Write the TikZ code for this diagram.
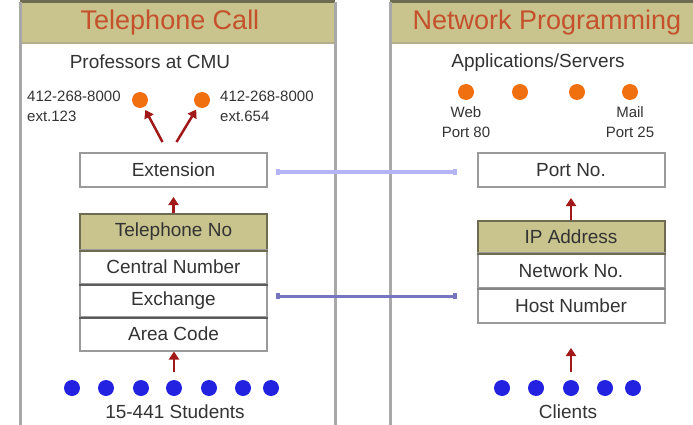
\documentclass[tikz,border=0pt]{standalone}
\usepackage{fontspec}
\setmainfont{Liberation Sans}
\usetikzlibrary{arrows.meta}

\definecolor{khaki}{HTML}{C9C48E}
\definecolor{olivedark}{HTML}{6E6B50}
\definecolor{panelgray}{HTML}{A8A8A8}
\definecolor{boxgray}{HTML}{9A9A9A}
\definecolor{txtgray}{HTML}{333333}
\definecolor{titlered}{HTML}{C4502C}
\definecolor{arrowred}{HTML}{A01818}
\definecolor{dotorange}{HTML}{F07010}
\definecolor{dotblue}{HTML}{2222E0}
\definecolor{linklight}{HTML}{B4B4F4}
\definecolor{linkdark}{HTML}{7676C0}

\begin{document}
\begin{tikzpicture}[x=1pt, y=-1pt,
    box/.style ={draw=boxgray, line width=2pt, minimum width=187pt, minimum height=34pt,
                 inner sep=0pt, font=\fontsize{19}{21}\selectfont, text=txtgray},
    head/.style ={box, fill=khaki, draw=olivedark},
    row/.style ={box, minimum height=33.5pt},
    title/.style ={font=\fontsize{27}{30}\selectfont, text=titlered},
    caption/.style ={font=\fontsize{19}{21}\selectfont, text=txtgray},
    small/.style ={font=\fontsize{15}{20}\selectfont, text=txtgray, align=left, inner sep=0pt},
    orange dot/.style ={circle, fill=dotorange, inner sep=0pt, minimum size=16pt},
    blue dot/.style ={circle, fill=dotblue, inner sep=0pt, minimum size=16pt},
    up/.style ={draw=arrowred, line width=2.5pt, -{Triangle[length=8pt,width=10pt]}},
    link/.style ={line width=3.5pt, {Square[length=4pt,width=6pt]}-{Square[length=4pt,width=6pt]}}]

   \useasboundingbox (0,0) rectangle (693,425);

   % the two panels
   \fill[khaki] (20,3) rectangle (335,43);
   \fill[khaki] (390,3) rectangle (693,43);
   \draw[khaki!70!gray, line width=1.5pt] (20,43) -- (335,43);
   \draw[khaki!70!gray, line width=1.5pt] (390,43) -- (693,43);
   \draw[olivedark, line width=3pt] (20,2) -- (335,2);
   \draw[olivedark, line width=3pt] (390,2) -- (693,2);
   \draw[panelgray, line width=3pt] (20,2) -- (20,425);
   \draw[panelgray, line width=3pt] (335,2) -- (335,425);
   \draw[panelgray, line width=3pt] (390,2) -- (390,425);

   \node[title] (call) at (170,23) {Telephone Call};
   \node[title] (net)  at (547,23) {Network Programming};

   % telephone call
   \node[caption] (prof) at (150,62) {Professors at CMU};
   \node[orange dot] (p1) at (140,100) {};
   \node[orange dot] (p2) at (202,100) {};
   \node[small, anchor=west] (p1lab) at (27,106) {412-268-8000\\ext.123};
   \node[small, anchor=west] (p2lab) at (220,106) {412-268-8000\\ext.654};

   \node[box] (ext) at (173.5,170) {Extension};
   \node[head, minimum height=36pt] (tel) at (173.5,232) {Telephone No};
   \node[row] (central) at (173.5,266.75) {Central Number};
   \node[row] (exch) at (173.5,300.25) {Exchange};
   \node[row] (area) at (173.5,333.75) {Area Code};
   \draw[olivedark, line width=2pt] (tel.south west) -- (tel.south east);
   \draw[txtgray!80, line width=2pt] (central.south west) -- (central.south east);
   \draw[txtgray!80, line width=1.5pt] (exch.south west) -- (exch.south east);

   \node[blue dot] (st1) at (72,388) {};
   \node[blue dot] (st2) at (106,388) {};
   \node[blue dot] (st3) at (141,388) {};
   \node[blue dot] (st4) at (174,388) {};
   \node[blue dot] (st5) at (209,388) {};
   \node[blue dot] (st6) at (243,388) {};
   \node[blue dot] (st7) at (271,388) {};
   \node[caption] (students) at (175,412) {15-441 Students};

   \draw[up, shorten >=3pt] ([xshift=-11pt,yshift=10pt]ext.north) to (p1);
   \draw[up, shorten >=3pt] ([xshift=3pt,yshift=10pt]ext.north) to (p2);
   \draw[up, shorten >=9pt] (tel.north) to (ext.south);
   \draw[up, shorten <=8pt] (st4.north) to (st4.north |- area.south);

   % network programming
   \node[caption] (apps) at (538,63) {Applications/Servers};
   \node[orange dot] (s1) at (466,92) {};
   \node[orange dot] (s2) at (520,92) {};
   \node[orange dot] (s3) at (577,92) {};
   \node[orange dot] (s4) at (630,92) {};
   \node[small, align=center] (web) at (466,122) {Web\\Port 80};
   \node[small, align=center] (mail) at (630,122) {Mail\\Port 25};

   \node[box] (port) at (571,170) {Port No.};
   \node[head, minimum height=32pt] (ip) at (571,237) {IP Address};
   \node[row, minimum height=35pt] (netno) at (571,270.5) {Network No.};
   \node[row, minimum height=35pt] (host) at (571,305.5) {Host Number};
   \draw[olivedark, line width=2pt] (ip.south west) -- (ip.south east);
   \draw[txtgray!60, line width=2pt] (netno.south west) -- (netno.south east);

   \node[blue dot] (c1) at (502,388) {};
   \node[blue dot] (c2) at (536,388) {};
   \node[blue dot] (c3) at (571,388) {};
   \node[blue dot] (c4) at (605,388) {};
   \node[blue dot] (c5) at (633,388) {};
   \node[caption] (clients) at (568,412) {Clients};

   \draw[up, shorten >=10pt] (ip.north) to (port.south);
   \draw[up, shorten <=8pt, shorten >=24pt] (c3.north) to (c3.north |- host.south);

   % matching parts
   \draw[link, linklight, shorten <=8pt, shorten >=20pt] ([yshift=-2pt]ext.east) to ([yshift=-2pt]ext.east -| port.west);
   \draw[link, linkdark, shorten <=8pt, shorten >=20pt] ([yshift=4pt]exch.east) to ([yshift=4pt]exch.east -| host.west);

 \end{tikzpicture}
\end{document}
